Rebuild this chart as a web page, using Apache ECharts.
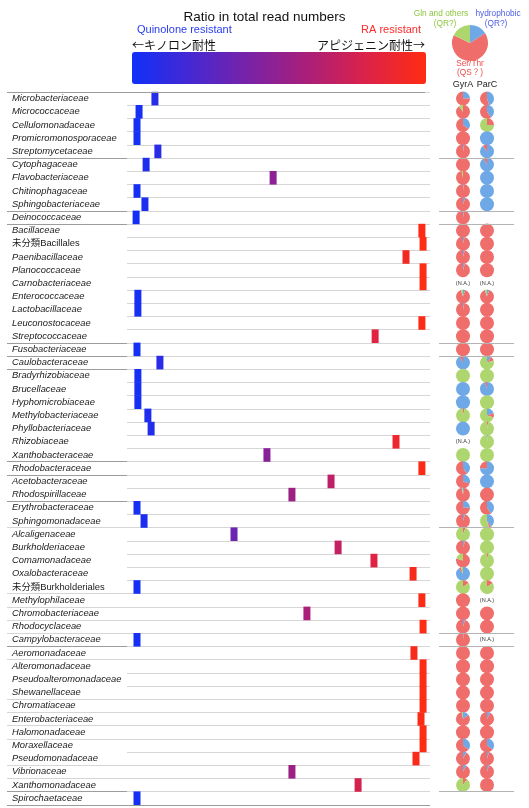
<!DOCTYPE html>
<html>
<head>
<meta charset="utf-8">
<script src="https://cdn.jsdelivr.net/npm/echarts@6/dist/echarts.min.js"></script>
<style>
  html, body { margin: 0; padding: 0; background: #fff; }
  #chart { width: 529px; height: 808px; }
</style>
</head>
<body>
<div id="chart"></div>
<script>
// row labels, top to bottom
const families = [
  'Microbacteriaceae', 'Micrococcaceae', 'Cellulomonadaceae', 'Promicromonosporaceae', 'Streptomycetaceae',
  'Cytophagaceae', 'Flavobacteriaceae', 'Chitinophagaceae', 'Sphingobacteriaceae', 'Deinococcaceae',
  'Bacillaceae', '未分類Bacillales', 'Paenibacillaceae', 'Planococcaceae', 'Carnobacteriaceae',
  'Enterococcaceae', 'Lactobacillaceae', 'Leuconostocaceae', 'Streptococcaceae', 'Fusobacteriaceae',
  'Caulobacteraceae', 'Bradyrhizobiaceae', 'Brucellaceae', 'Hyphomicrobiaceae', 'Methylobacteriaceae',
  'Phyllobacteriaceae', 'Rhizobiaceae', 'Xanthobacteraceae', 'Rhodobacteraceae', 'Acetobacteraceae',
  'Rhodospirillaceae', 'Erythrobacteraceae', 'Sphingomonadaceae', 'Alcaligenaceae', 'Burkholderiaceae',
  'Comamonadaceae', 'Oxalobacteraceae', '未分類Burkholderiales', 'Methylophilaceae', 'Chromobacteriaceae',
  'Rhodocyclaceae', 'Campylobacteraceae', 'Aeromonadaceae', 'Alteromonadaceae', 'Pseudoalteromonadaceae',
  'Shewanellaceae', 'Chromatiaceae', 'Enterobacteriaceae', 'Halomonadaceae', 'Moraxellaceae',
  'Pseudomonadaceae', 'Vibrionaceae', 'Xanthomonadaceae', 'Spirochaetaceae'
]

// position on the quinolone (0) .. RA (1) scale
const ratio = [
  0.078, 0.024, 0.017, 0.017, 0.088,
  0.048, 0.480, 0.017, 0.044, 0.014,
  0.986, 0.990, 0.932, 0.990, 0.990,
  0.020, 0.020, 0.986, 0.827, 0.017,
  0.095, 0.020, 0.020, 0.020, 0.054,
  0.065, 0.898, 0.459, 0.986, 0.677,
  0.544, 0.017, 0.041, 0.347, 0.701,
  0.823, 0.956, 0.017, 0.986, 0.595,
  0.990, 0.017, 0.959, 0.990, 0.990,
  0.990, 0.990, 0.983, 0.990, 0.990,
  0.966, 0.544, 0.769, 0.017
]

// pie shares [hydrophobic, Ser/Thr, Gln and others]; 'NA' = (N.A.), null = nothing drawn
const gyrA = [
  [25, 75, 0], [0, 90, 10], [35, 65, 0], [0, 100, 0], [3, 97, 0],
  [0, 100, 0], [0, 97, 3], [2, 98, 0], [6, 94, 0], [3, 97, 0],
  [0, 100, 0], [4, 96, 0], [4, 96, 0], [4, 96, 0], 'NA',
  [5, 90, 5], [3, 97, 0], [0, 100, 0], [0, 100, 0], [0, 100, 0],
  [92, 8, 0], [0, 0, 100], [100, 0, 0], [100, 0, 0], [0, 4, 96],
  [100, 0, 0], 'NA', [0, 0, 100], [40, 60, 0], [30, 70, 0],
  [3, 94, 3], [25, 75, 0], [5, 95, 0], [0, 6, 94], [5, 95, 0],
  [0, 80, 20], [90, 5, 5], [0, 15, 85], [0, 100, 0], [0, 100, 0],
  [5, 95, 0], [2, 98, 0], [0, 100, 0], [0, 100, 0], [0, 100, 0],
  [0, 100, 0], [0, 100, 0], [15, 82, 3], [0, 100, 0], [35, 65, 0],
  [8, 92, 0], [8, 92, 0], [0, 10, 90], null
]
const parC = [
  [45, 55, 0], [40, 60, 0], [0, 25, 75], [100, 0, 0], [90, 10, 0],
  [92, 8, 0], [100, 0, 0], [100, 0, 0], [100, 0, 0], null,
  [0, 100, 0], [0, 100, 0], [0, 100, 0], [0, 100, 0], 'NA',
  [5, 90, 5], [0, 100, 0], [0, 100, 0], [0, 100, 0], [0, 100, 0],
  [10, 10, 80], [0, 0, 100], [95, 5, 0], [0, 0, 100], [20, 10, 70],
  [0, 3, 97], [2, 0, 98], [0, 0, 100], [75, 25, 0], [100, 0, 0],
  [0, 100, 0], [40, 60, 0], [40, 5, 55], [0, 0, 100], [0, 0, 100],
  [0, 3, 97], [0, 0, 100], [0, 15, 85], 'NA', [0, 100, 0],
  [0, 100, 0], 'NA', [0, 100, 0], [0, 100, 0], [0, 100, 0],
  [0, 100, 0], [0, 100, 0], [8, 92, 0], [0, 100, 0], [35, 65, 0],
  [5, 95, 0], [5, 95, 0], [0, 100, 0], null
]
const shareNames = ['hydrophobic (QR?)', 'Ser/Thr (QS？)', 'Gln and others (QR?)']
const legendShares = [16, 66, 18]

// row boundaries that carry a separator line
const darkBreaks = [5, 9, 10, 19, 20, 21, 28, 29, 31, 42, 53]
const lightBreaks = [33, 38, 39, 40, 41, 43, 46, 47, 48, 49, 51, 52]
const pieBreaks = [5, 9, 10, 19, 20, 33, 41, 42, 53]

const pieColors = ['#6ea8e6', '#ef6e6b', '#aed66e']
const gradient = ['#1030f8', '#4628d2', '#7a22a6', '#ab1f78', '#dc2248', '#ff2c12']
const font = "'Liberation Sans', Arial, 'Noto Sans CJK JP', sans-serif"
const jpFont = "'Noto Sans CJK JP', sans-serif"
const nRows = families.length
const labelEnd = 120 / 423

const pieData = [];
[gyrA, parC].forEach((col, c) => {
  col.forEach((v, i) => {
    if (v === null) return
    if (v === 'NA') pieData.push([c + 1, i + 0.5, 0, 0, 0, 1])
    else pieData.push([c + 1, i + 0.5, v[0], v[1], v[2], 0])
  })
})

function renderPie (params, api) {
  const p = api.coord([api.value(0), api.value(1)])
  if (api.value(5) === 1) {
    return {
      type: 'text',
      style: { x: p[0], y: p[1], text: '(N.A.)', fontSize: 5.5, fontFamily: font, fill: '#333', align: 'center', verticalAlign: 'middle' }
    }
  }
  const vals = [api.value(2), api.value(3), api.value(4)]
  const total = vals[0] + vals[1] + vals[2]
  const children = []
  const full = vals.findIndex(v => v === total)
  if (full >= 0) {
    children.push({
      type: 'circle',
      shape: { cx: p[0], cy: p[1], r: 7 },
      style: { fill: pieColors[full], stroke: null, lineWidth: 0 }
    })
    return { type: 'group', children }
  }
  let a = -Math.PI / 2
  vals.forEach((v, k) => {
    if (!v) return
    const e = a + v / total * Math.PI * 2
    children.push({
      type: 'sector',
      shape: { cx: p[0], cy: p[1], r0: 0, r: 7, startAngle: a, endAngle: e, clockwise: true },
      style: { fill: pieColors[k], stroke: null, lineWidth: 0 }
    })
    a = e
  })
  return { type: 'group', children }
}

function sepLine (color, width, data) {
  return {
    silent: true,
    symbol: ['none', 'none'],
    label: { show: false },
    lineStyle: { color, width, type: 'solid' },
    data
  }
}

const chart = echarts.init(document.getElementById('chart'))

chart.setOption({
  animation: false,
  textStyle: { fontFamily: font },
  grid: [
    { left: 7, top: 92, width: 423, height: 712.8 },
    { left: 127, top: 92, width: 303, height: 712.8 },
    { left: 439, top: 92, width: 75, height: 712.8 }
  ],
  xAxis: [
    { gridIndex: 0, type: 'value', min: 0, max: 1, show: false },
    { gridIndex: 1, type: 'value', min: -0.017, max: 1.0136, show: false },
    {
      gridIndex: 2, type: 'value', min: 0, max: 3.125, interval: 1, position: 'top',
      axisLine: { show: false }, axisTick: { show: false }, splitLine: { show: false },
      axisLabel: {
        margin: 3, fontSize: 9, color: '#222',
        formatter: v => (v === 1 ? 'GyrA' : v === 2 ? 'ParC' : '')
      }
    }
  ],
  yAxis: [
    {
      gridIndex: 0, type: 'category', data: families, inverse: true,
      axisLine: { show: false }, axisTick: { show: false }, splitLine: { show: false },
      axisLabel: {
        inside: true, margin: 5, interval: 0, fontSize: 9.4, fontStyle: 'italic', color: '#1a1a1a',
        formatter: v => (v.startsWith('未分類') ? '{n|' + v + '}' : v),
        rich: { n: { fontStyle: 'normal', fontSize: 9.4, color: '#1a1a1a' } }
      }
    },
    { gridIndex: 0, type: 'value', min: 0, max: nRows, inverse: true, show: false },
    {
      gridIndex: 1, type: 'category', data: families, inverse: true,
      axisLine: { show: false }, axisTick: { show: false }, axisLabel: { show: false },
      splitLine: { show: true, interval: 0, lineStyle: { color: '#d6d6d6', width: 1.2 } }
    },
    { gridIndex: 2, type: 'value', min: 0, max: nRows, inverse: true, show: false }
  ],
  visualMap: {
    type: 'continuous',
    min: 0,
    max: 1,
    dimension: 0,
    seriesIndex: 0,
    orient: 'horizontal',
    left: 132,
    top: 52,
    itemWidth: 32,
    itemHeight: 294,
    padding: 0,
    calculable: false,
    inRange: { color: gradient }
  },
  series: [
    {
      type: 'scatter',
      xAxisIndex: 1,
      yAxisIndex: 2,
      symbol: 'rect',
      symbolSize: [7, 13.6],
      silent: true,
      itemStyle: { opacity: 1 },
      data: ratio.map((r, i) => [r, families[i]])
    },
    {
      type: 'line',
      xAxisIndex: 0,
      yAxisIndex: 1,
      data: [],
      markLine: sepLine('#9c9c9c', 1.2, darkBreaks.map(b => [{ coord: [0, b] }, { coord: [labelEnd, b] }])
        .concat([[{ coord: [0, 0] }, { coord: [418 / 423, 0] }], [{ coord: [0, nRows] }, { coord: [1, nRows] }]]))
    },
    {
      type: 'line',
      xAxisIndex: 0,
      yAxisIndex: 1,
      data: [],
      markLine: sepLine('#d6d6d6', 1.2, lightBreaks.map(b => [{ coord: [0, b] }, { coord: [labelEnd, b] }]))
    },
    {
      type: 'custom',
      xAxisIndex: 2,
      yAxisIndex: 3,
      silent: true,
      renderItem: renderPie,
      data: pieData
    },
    {
      type: 'line',
      xAxisIndex: 2,
      yAxisIndex: 3,
      data: [],
      markLine: sepLine('#b4b4b4', 1.2, pieBreaks.map(b => [{ coord: [0, b] }, { coord: [3.125, b] }]))
    },
    {
      type: 'pie',
      center: [470, 43],
      radius: 18,
      startAngle: 90,
      silent: true,
      label: { show: false },
      labelLine: { show: false },
      itemStyle: { borderWidth: 0 },
      data: legendShares.map((v, k) => ({ name: shareNames[k], value: v, itemStyle: { color: pieColors[k] } }))
    }
  ],
  graphic: [
    { type: 'text', left: 'center', top: 11, style: { text: 'Ratio in total read numbers', fontSize: 13.5, fill: '#111', fontFamily: font } },
    { type: 'text', x: 137, y: 30, style: { text: 'Quinolone resistant', fontSize: 11, fill: '#2a3cf0', fontFamily: font, verticalAlign: 'middle' } },
    { type: 'text', x: 132, y: 45, style: { text: '←キノロン耐性', fontSize: 12, fill: '#111', fontFamily: jpFont, verticalAlign: 'middle' } },
    { type: 'text', x: 421, y: 30, style: { text: 'RA resistant', fontSize: 11, fill: '#ff2a2a', fontFamily: font, align: 'right', verticalAlign: 'middle' } },
    { type: 'text', x: 425, y: 45, style: { text: 'アピジェニン耐性→', fontSize: 12, fill: '#111', fontFamily: jpFont, align: 'right', verticalAlign: 'middle' } },
    { type: 'text', x: 441, y: 14, style: { text: 'Gln and others', fontSize: 8.3, fill: '#8cc63f', fontFamily: font, align: 'center', verticalAlign: 'middle' } },
    { type: 'text', x: 445, y: 24, style: { text: '(QR?)', fontSize: 8.3, fill: '#8cc63f', fontFamily: font, align: 'center', verticalAlign: 'middle' } },
    { type: 'text', x: 498, y: 14, style: { text: 'hydrophobic', fontSize: 8.3, fill: '#4a5ee0', fontFamily: font, align: 'center', verticalAlign: 'middle' } },
    { type: 'text', x: 496, y: 24, style: { text: '(QR?)', fontSize: 8.3, fill: '#4a5ee0', fontFamily: font, align: 'center', verticalAlign: 'middle' } },
    { type: 'text', x: 470, y: 64, style: { text: 'Ser/Thr', fontSize: 8.3, fill: '#f04a4a', fontFamily: font, align: 'center', verticalAlign: 'middle' } },
    { type: 'text', x: 470, y: 73, style: { text: '(QS？)', fontSize: 8.3, fill: '#f04a4a', fontFamily: font, align: 'center', verticalAlign: 'middle' } }
  ]
})
</script>
</body>
</html>
